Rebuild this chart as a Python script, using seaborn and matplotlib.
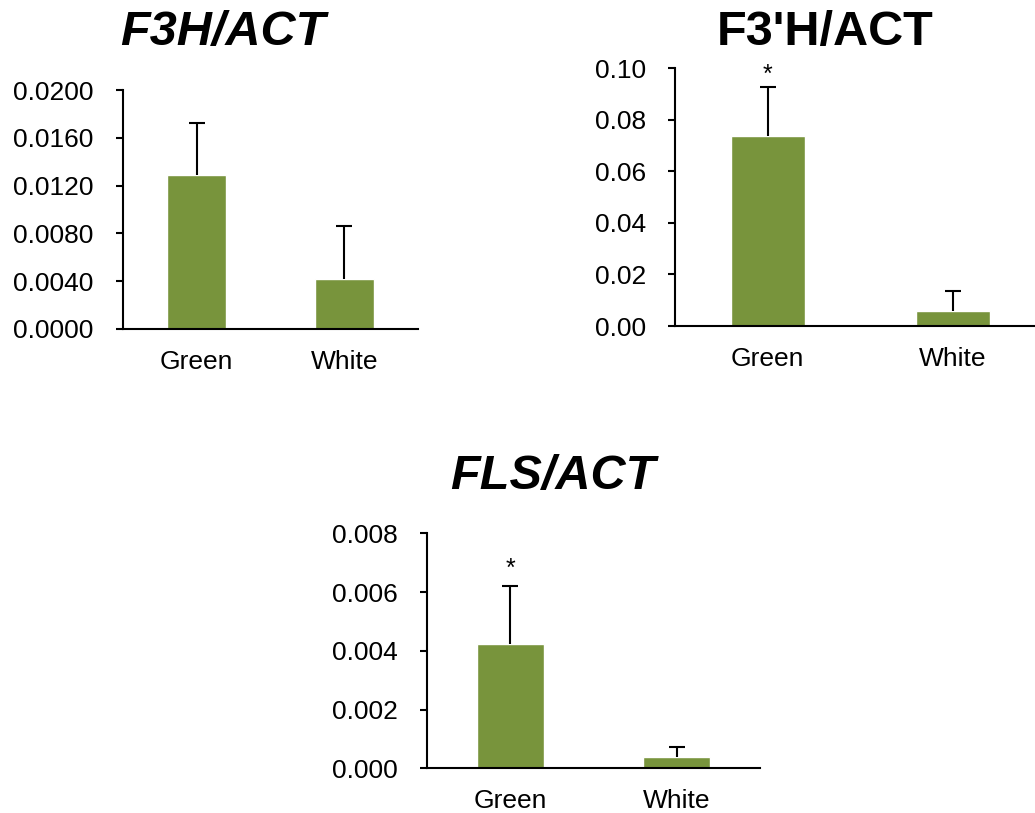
import matplotlib
matplotlib.use("Agg")
import matplotlib.pyplot as plt
import seaborn as sns
import numpy as np
import pandas as pd

sns.set_theme(style="white")
plt.rcParams["font.family"] = ["Liberation Sans", "DejaVu Sans"]
plt.rcParams["text.color"] = "black"
plt.rcParams["xtick.color"] = "black"
plt.rcParams["ytick.color"] = "black"

categories = ["Green", "White"]

f3h_mean = [0.0129, 0.0042]
f3h_err = [0.0043, 0.0044]

f3ph_mean = [0.0738, 0.0057]
f3ph_err = [0.0188, 0.0080]

fls_mean = [0.00423, 0.00040]
fls_err = [0.00197, 0.00034]

bar_color = "#78943C"

fig = plt.figure(figsize=(10.35, 8.13), dpi=100)
W, H = 1035.0, 813.0


def px_axes(x0, x1, ytop, ybot):
    return fig.add_axes([x0 / W, (H - ybot) / H, (x1 - x0) / W, (ybot - ytop) / H])


panels = [
    dict(rect=(123, 418, 90, 329), mean=f3h_mean, err=f3h_err, ylim=0.02,
         ticks=np.arange(0, 0.0201, 0.004), fmt="{:.4f}", title="F3H/ACT",
         tpos=(223, 33), tstyle="italic", stars=[], star_off=0),
    dict(rect=(675, 1045, 68, 326), mean=f3ph_mean, err=f3ph_err, ylim=0.10,
         ticks=np.arange(0, 0.101, 0.02), fmt="{:.2f}", title="F3'H/ACT",
         tpos=(825, 33), tstyle="normal", stars=[0], star_off=0),
    dict(rect=(427, 760, 533.3, 768.3), mean=fls_mean, err=fls_err, ylim=0.008,
         ticks=np.arange(0, 0.00801, 0.002), fmt="{:.3f}", title="FLS/ACT",
         tpos=(553, 476), tstyle="italic", stars=[0], star_off=4),
]

for p in panels:
    ax = px_axes(*p["rect"])
    df = pd.DataFrame({"group": categories, "value": p["mean"]})
    sns.barplot(data=df, x="group", y="value", color=bar_color, width=0.4,
                saturation=1, errorbar=None, ax=ax, zorder=2)
    # upper-only error bars: a vertical stem plus a cap at the top
    _, caps, _ = ax.errorbar(range(len(categories)), p["mean"],
                             yerr=[np.zeros(len(categories)), p["err"]],
                             fmt="none", ecolor="black", elinewidth=1.5,
                             capsize=6, capthick=1.5, zorder=3)
    for c in caps:
        if np.allclose(c.get_ydata(), p["mean"]):
            c.set_visible(False)
    for i in p["stars"]:
        ax.annotate("*", xy=(i, p["mean"][i] + p["err"][i]),
                    xytext=(0, p["star_off"]), textcoords="offset points",
                    ha="center", va="bottom", fontsize=18)
    ax.set_xlim(-0.5, 1.5)
    ax.set_ylim(0, p["ylim"])
    ax.set_yticks(p["ticks"])
    ax.set_yticklabels([p["fmt"].format(t) for t in p["ticks"]])
    ax.set_xlabel("")
    ax.set_ylabel("")
    for s in ["top", "right"]:
        ax.spines[s].set_visible(False)
    for s in ["left", "bottom"]:
        ax.spines[s].set_color("black")
        ax.spines[s].set_linewidth(1.5)
        ax.spines[s].set_zorder(4)
    ax.tick_params(axis="y", direction="out", length=5, width=1.5,
                   color="black", labelcolor="black", labelsize=19, pad=16,
                   left=True)
    ax.tick_params(axis="x", length=0, labelsize=19, labelcolor="black", pad=15)
    ax.set_facecolor("white")
    fig.text(p["tpos"][0] / W, 1 - p["tpos"][1] / H, p["title"],
             ha="center", va="center", fontsize=35, fontweight="bold",
             fontstyle=p["tstyle"], color="black")

fig.savefig("out.png", dpi=100, facecolor="white")
